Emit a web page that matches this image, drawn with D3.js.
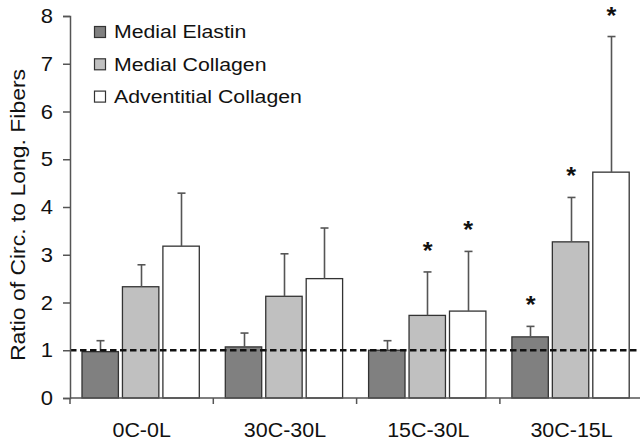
<!DOCTYPE html>
<html>
<head>
<meta charset="utf-8">
<script src="https://cdn.jsdelivr.net/npm/d3@7/dist/d3.min.js"></script>
<style>
  html, body { margin: 0; padding: 0; background: #fff; }
  svg { display: block; font-family: "Liberation Sans", Arial, sans-serif; }
</style>
</head>
<body>
<svg id="chart" width="640" height="443"></svg>
<script>
const categories = ["0C-0L", "30C-30L", "15C-30L", "30C-15L"];
const seriesNames = ["Medial Elastin", "Medial Collagen", "Adventitial Collagen"];
const medialElastin = [0.97, 1.07, 1.0, 1.28];
const medialCollagen = [2.33, 2.13, 1.73, 3.27];
const adventitialCollagen = [3.18, 2.50, 1.82, 4.73];
const medialElastinErr = [0.23, 0.29, 0.20, 0.22];
const medialCollagenErr = [0.46, 0.89, 0.91, 0.93];
const adventitialCollagenErr = [1.11, 1.06, 1.25, 2.84];
const medialElastinSig = [false, false, false, true];
const medialCollagenSig = [false, false, true, true];
const adventitialCollagenSig = [false, false, true, true];
const yTicks = [0, 1, 2, 3, 4, 5, 6, 7, 8];
const referenceLine = 1;
const fills = ["#808080", "#c0c0c0", "#ffffff"];

const svg = d3.select("#chart");
const x0 = 70, yBase = 398, yTop = 16;
const step = 143.3;
const x = d3.scaleBand().domain(categories).range([x0, x0 + step * categories.length]).paddingInner(0).paddingOuter(0);
const y = d3.scaleLinear().domain([0, 8]).range([yBase, yTop]);
const inner = d3.scaleBand().domain(seriesNames).range([12, step - 14]).paddingInner(0.1).paddingOuter(0);

const series = [
  {name: seriesNames[0], vals: medialElastin, err: medialElastinErr, sig: medialElastinSig, fill: fills[0]},
  {name: seriesNames[1], vals: medialCollagen, err: medialCollagenErr, sig: medialCollagenSig, fill: fills[1]},
  {name: seriesNames[2], vals: adventitialCollagen, err: adventitialCollagenErr, sig: adventitialCollagenSig, fill: fills[2]}
];

const data = [];
categories.forEach((c, i) => series.forEach(s => data.push({cat: c, name: s.name, v: s.vals[i], e: s.err[i], sig: s.sig[i], fill: s.fill})));

// bars
svg.append("g").selectAll("rect").data(data).join("rect")
  .attr("x", d => x(d.cat) + inner(d.name))
  .attr("y", d => y(d.v))
  .attr("width", inner.bandwidth())
  .attr("height", d => y(0) - y(d.v))
  .attr("fill", d => d.fill)
  .attr("stroke", "#333")
  .attr("stroke-width", 1.3);

// error bars
const eg = svg.append("g").attr("stroke", "#555").attr("stroke-width", 1.6);
data.forEach(d => {
  const cx = Math.round(x(d.cat) + inner(d.name) + inner.bandwidth() / 2) + 0.5;
  eg.append("line").attr("x1", cx).attr("x2", cx).attr("y1", y(d.v)).attr("y2", y(d.v + d.e));
  eg.append("line").attr("x1", cx - 4).attr("x2", cx + 4).attr("y1", y(d.v + d.e)).attr("y2", y(d.v + d.e));
});

// significance stars
svg.append("g").selectAll("text").data(data.filter(d => d.sig)).join("text")
  .attr("transform", d => `translate(${x(d.cat) + inner(d.name) + inner.bandwidth() / 2 + 0.5},${y(d.v + d.e) - 13}) scale(1.1,1)`)
  .attr("text-anchor", "middle")
  .attr("font-size", 23)
  .attr("font-weight", "bold")
  .attr("fill", "#111")
  .text("*");

// reference dashed line
svg.append("line")
  .attr("x1", x0).attr("x2", 640)
  .attr("y1", y(referenceLine)).attr("y2", y(referenceLine))
  .attr("stroke", "#111").attr("stroke-width", 2.5)
  .attr("stroke-dasharray", "6.5,3.5");

// y axis
const yAxis = d3.axisLeft(y).tickValues(yTicks).tickSize(7).tickFormat("");
const ya = svg.append("g").attr("transform", `translate(${x0},0)`).call(yAxis);
ya.select(".domain").attr("stroke", "#555").attr("stroke-width", 1.5);
ya.selectAll(".tick line").attr("stroke", "#555").attr("stroke-width", 1.5);
svg.append("g").selectAll("text").data(yTicks).join("text")
  .attr("transform", d => `translate(53,${y(d) + 7}) scale(1.1,1)`)
  .attr("text-anchor", "end")
  .attr("font-size", 20)
  .attr("fill", "#111")
  .text(d => d3.format("d")(d));

// x axis
const xTickScale = d3.scaleLinear().domain([0, categories.length]).range([x0, x0 + step * categories.length]);
const xa = svg.append("g").attr("transform", `translate(0,${yBase})`);
xa.append("line").attr("x1", x0).attr("x2", 640).attr("y1", 0).attr("y2", 0)
  .attr("stroke", "#555").attr("stroke-width", 1.5);
xa.selectAll("line.tk").data(d3.range(categories.length)).join("line").attr("class", "tk")
  .attr("x1", d => xTickScale(d)).attr("x2", d => xTickScale(d))
  .attr("y1", 0).attr("y2", 6).attr("stroke", "#555").attr("stroke-width", 1.5);
xa.selectAll("text").data(categories).join("text")
  .attr("transform", d => `translate(${x(d) + x.bandwidth() / 2},39) scale(1.1,1)`)
  .attr("text-anchor", "middle")
  .attr("font-size", 19.5)
  .attr("fill", "#111")
  .text(d => d);

// y label
svg.append("text")
  .attr("transform", `translate(25,${215}) rotate(-90) scale(1.12,1)`)
  .attr("text-anchor", "middle")
  .attr("font-size", 20.5)
  .attr("fill", "#111")
  .text("Ratio of Circ. to Long. Fibers");

// legend
const lg = svg.append("g");
series.forEach((s, i) => {
  const cy = 32 + i * 32.3;
  lg.append("rect").attr("x", 94.5).attr("y", cy - 5.5).attr("width", 11).attr("height", 11)
    .attr("fill", s.fill).attr("stroke", "#333").attr("stroke-width", 1.2);
  lg.append("text").attr("transform", `translate(114,${cy + 6.3}) scale(1.15,1)`)
    .attr("font-size", 18.5).attr("fill", "#111").text(s.name);
});
</script>
</body>
</html>
